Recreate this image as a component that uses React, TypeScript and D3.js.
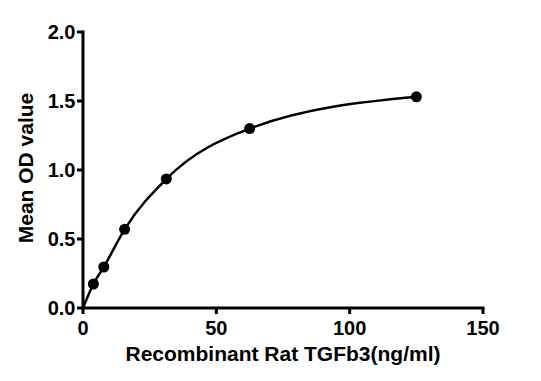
import React from "react";
import * as d3 from "d3";

const concentrations = [3.9, 7.8, 15.6, 31.25, 62.5, 125];
const odValues = [0.174, 0.297, 0.57, 0.935, 1.3, 1.53];
const xTicks = [0, 50, 100, 150];
const yTicks = [0, 0.5, 1.0, 1.5, 2.0];

const W = 541, H = 381;
const x = d3.scaleLinear().domain([0, 150]).range([83, 483]);
const y = d3.scaleLinear().domain([0, 2]).range([308, 32]);

export default function App() {
  const curvePts: [number, number][] = [[0, 0], ...concentrations.map((c, i) => [c, odValues[i]] as [number, number])];
  const line = d3.line<[number, number]>().x(d => x(d[0])).y(d => y(d[1])).curve(d3.curveMonotoneX);
  const font = "'Liberation Sans', Arial, sans-serif";
  return (
    <svg width={W} height={H} style={{ position: "absolute", left: 0, top: 0, background: "#fff" }} fontFamily={font} fontWeight="bold">
      <rect width={W} height={H} fill="#fff" />
      <path d={line(curvePts) || ""} fill="none" stroke="#000" strokeWidth={2.5} />
      {concentrations.map((c, i) => (
        <circle key={i} cx={x(c)} cy={y(odValues[i])} r={5.5} fill="#000" />
      ))}
      {/* y axis */}
      <line x1={x(0)} x2={x(0)} y1={y(2) - 1.5} y2={y(0) + 1.5} stroke="#000" strokeWidth={3} />
      {yTicks.map(t => (
        <g key={t}>
          <line x1={x(0) - 6} x2={x(0)} y1={y(t)} y2={y(t)} stroke="#000" strokeWidth={3} />
          <text x={x(0) - 7.5} y={y(t) + 7} textAnchor="end" fontSize={20}>{t.toFixed(1)}</text>
        </g>
      ))}
      {/* x axis */}
      <line x1={x(0) - 1.5} x2={x(150) + 1.5} y1={y(0)} y2={y(0)} stroke="#000" strokeWidth={3} />
      {xTicks.map(t => (
        <g key={t}>
          <line x1={x(t)} x2={x(t)} y1={y(0)} y2={y(0) + 6} stroke="#000" strokeWidth={3} />
          <text x={x(t)} y={335} textAnchor="middle" fontSize={20}>{t}</text>
        </g>
      ))}
      <text x={283} y={361} textAnchor="middle" fontSize={21}>Recombinant Rat TGFb3(ng/ml)</text>
      <text transform={`translate(33,168) rotate(-90)`} textAnchor="middle" fontSize={21}>Mean OD value</text>
    </svg>
  );
}
